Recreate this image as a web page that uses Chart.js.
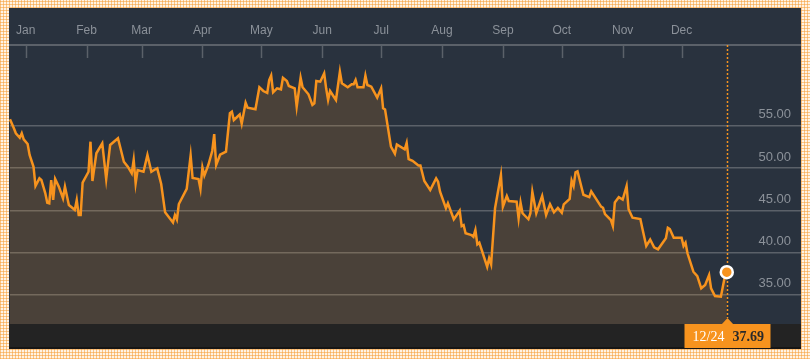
<!DOCTYPE html>
<html><head><meta charset="utf-8">
<script src="https://cdn.jsdelivr.net/npm/chart.js@4.4.0/dist/chart.umd.min.js"></script>
<style>
html,body{margin:0;padding:0;}
body{width:810px;height:359px;overflow:hidden;position:relative;background-color:#fff3e4;
background-image:repeating-linear-gradient(0deg,rgba(246,158,55,.55) 0 1px,transparent 1px 3px),repeating-linear-gradient(90deg,rgba(246,158,55,.55) 0 1px,transparent 1px 3px);}
#panel{position:absolute;left:9px;top:8px;width:792px;height:341px;background:linear-gradient(#29323e 0 316px,#232323 316px 339px,#161616 339px);}
canvas{display:block}
</style></head><body>
<div id="panel"><canvas id="c" width="792" height="341"></canvas></div>
<script>
// Month labels on the top axis and the day (since Jan 1) each month starts
const monthLabels = ['Jan','Feb','Mar','Apr','May','Jun','Jul','Aug','Sep','Oct','Nov','Dec'];
const monthStartDays = [0,31,59,90,120,151,181,212,243,273,304,334];
// Price axis ticks
const priceTicks = [35,40,45,50,55];
// Trading days (days since Jan 1; negative = previous December)
const tradeDays = [
 -8,-6,-5,-3,-2,-1,1,2,4,5,
 7,8,10,11,12,13,14,15,17,19,
 20,22,24,25,26,27,28,29,32,33,
 34,36,39,41,43,47,50,52,54,55,
 56,57,60,62,64,66,67,69,71,75,
 76,77,78,82,84,85,88,89,90,91,
 93,95,96,97,99,102,104,105,106,109,
 110,112,113,117,119,121,123,124,125,126,
 128,130,131,133,134,137,138,140,141,144,
 146,147,148,150,152,153,154,155,158,160,
 161,164,166,167,168,169,172,173,174,176,
 179,181,182,183,186,188,189,193,194,195,
 197,200,201,203,206,209,210,211,214,215,
 218,221,222,223,224,227,228,229,230,231,
 235,236,237,239,242,243,245,246,250,251,
 252,253,256,257,258,260,263,265,267,269,
 271,273,274,277,278,279,280,281,284,287,
 288,293,294,295,298,299,300,302,304,306,
 307,309,313,314,316,318,320,322,326,327,
 328,330,334,335,336,337,340,342,344,346,
 348,349,351,354,356,357
];
// Closing prices
const closePrices = [
 55.76,54.69,54.10,53.58,54.10,53.39,52.84,51.54,50.15,47.87,
 48.78,48.58,47.01,45.90,45.83,48.58,46.22,48.70,47.72,46.42,
 47.79,45.63,45.24,45.04,46.22,44.44,44.44,48.26,49.56,53.11,
 48.46,51.74,52.92,48.70,52.72,53.51,50.74,50.15,49.37,50.95,
 48.19,49.76,49.56,51.54,49.56,49.85,49.96,48.11,44.76,43.56,
 44.44,43.91,45.74,47.54,51.48,48.82,48.70,47.52,50.08,49.11,
 50.35,52.01,54.00,50.35,51.57,51.93,56.47,56.65,55.67,56.32,
 55.24,57.72,57.13,56.95,59.55,59.10,58.87,60.40,60.93,58.95,
 59.42,59.30,60.67,60.28,59.69,59.42,57.25,60.67,59.54,58.71,
 57.45,57.65,60.28,60.20,61.19,59.42,58.04,59.10,58.04,61.38,
 60.01,59.54,59.89,59.89,60.40,59.54,59.54,60.91,59.81,59.61,
 58.31,59.42,57.06,56.91,52.52,51.69,52.78,52.21,52.98,51.06,
 50.86,50.30,50.30,48.46,47.40,48.78,48.38,47.20,45.24,45.83,
 43.94,44.95,43.14,43.26,42.28,42.08,41.88,42.67,40.98,41.17,
 38.33,39.33,38.62,45.24,49.17,45.43,46.69,46.10,46.02,44.05,
 45.90,44.65,43.94,44.65,47.20,44.65,46.69,44.44,45.71,44.76,
 45.27,44.72,45.71,46.34,48.52,47.87,49.50,49.62,46.84,46.55,
 47.25,45.43,45.30,44.56,43.85,43.14,45.92,46.54,46.26,47.87,
 45.12,44.13,43.97,42.87,40.78,41.55,40.63,40.39,41.69,42.94,
 42.79,41.76,41.76,40.78,41.17,39.92,37.74,37.23,35.78,36.17,
 37.35,35.78,34.87,34.79,37.15,37.69
];
const lastDateLabel = '12/24';

const ORANGE = '#f7931e';
const AXIS_GRAY = '#5b6169';
const LABEL_GRAY = '#8b9199';
const lastIdx = closePrices.length - 1;

const decor = {
  id: 'decor',
  beforeDatasetsDraw(chart) {
    const {ctx, chartArea, scales: {x}} = chart;
    ctx.save();
    ctx.strokeStyle = AXIS_GRAY;
    ctx.lineWidth = 1.5;
    monthStartDays.forEach(d => {
      const px = Math.round(x.getPixelForValue(d)) + 0.5;
      ctx.beginPath();
      ctx.moveTo(px, chartArea.top);
      ctx.lineTo(px, chartArea.top + 13);
      ctx.stroke();
    });
    const lx = Math.round(x.getPixelForValue(tradeDays[lastIdx])) + 0.5;
    ctx.strokeStyle = ORANGE;
    ctx.lineWidth = 1.5;
    ctx.setLineDash([2, 2]);
    ctx.beginPath();
    ctx.moveTo(lx, chartArea.top);
    ctx.lineTo(lx, chartArea.bottom - 6);
    ctx.stroke();
    ctx.restore();
  },
  afterDraw(chart) {
    const {ctx, chartArea, scales: {x}} = chart;
    const lx = Math.round(x.getPixelForValue(tradeDays[lastIdx])) + 0.5;
    const b = chartArea.bottom;
    ctx.save();
    ctx.fillStyle = ORANGE;
    ctx.fillRect(lx - 43, b, 86, 24);
    ctx.beginPath();
    ctx.moveTo(lx - 6, b + 0.5);
    ctx.lineTo(lx, b - 6);
    ctx.lineTo(lx + 6, b + 0.5);
    ctx.closePath();
    ctx.fill();
    ctx.textBaseline = 'middle';
    ctx.textAlign = 'left';
    ctx.fillStyle = '#ffffff';
    ctx.font = '14px "Liberation Serif", serif';
    ctx.fillText(lastDateLabel, lx - 35, b + 13);
    ctx.fillStyle = '#2a2a2a';
    ctx.font = 'bold 14px "Liberation Serif", serif';
    ctx.fillText(closePrices[lastIdx].toFixed(2), lx + 5, b + 13);
    ctx.restore();
  }
};

new Chart(document.getElementById('c'), {
  type: 'line',
  data: {
    datasets: [{
      data: tradeDays.map((d, i) => ({x: d, y: closePrices[i]})),
      borderColor: ORANGE,
      borderWidth: 2.5,
      backgroundColor: 'rgba(247,147,30,0.16)',
      fill: 'start',
      tension: 0,
      clip: false,
      pointRadius: ctx => ctx.dataIndex === lastIdx ? 6 : 0,
      pointHoverRadius: 0,
      pointBackgroundColor: ORANGE,
      pointBorderColor: '#ffffff',
      pointBorderWidth: 2.5
    }]
  },
  options: {
    responsive: false,
    animation: false,
    events: [],
    layout: {autoPadding: false, padding: {top: 0, left: 0, right: 0, bottom: 25}},
    plugins: {legend: {display: false}, tooltip: {enabled: false}},
    scales: {
      x: {
        type: 'linear', position: 'top', min: -8, max: 394.8,
        afterBuildTicks: s => { s.ticks = monthStartDays.map(v => ({value: v})); },
        afterFit: s => { s.height = 37; },
        ticks: {
          autoSkip: false, maxRotation: 0, padding: 7, color: LABEL_GRAY,
          font: {family: '"Liberation Sans", Arial, sans-serif', size: 12},
          callback: v => monthLabels[monthStartDays.indexOf(v)]
        },
        grid: {drawOnChartArea: false, drawTicks: false},
        border: {display: true, color: AXIS_GRAY, width: 2}
      },
      y: {
        type: 'linear', position: 'right', min: 31.56, max: 64.54,
        afterBuildTicks: s => { s.ticks = priceTicks.map(v => ({value: v})); },
        afterFit: s => { s.width = 0; },
        ticks: {
          mirror: true, padding: -10, labelOffset: -11, color: LABEL_GRAY,
          font: {family: '"Liberation Sans", Arial, sans-serif', size: 13},
          callback: v => v.toFixed(2)
        },
        grid: {color: AXIS_GRAY, lineWidth: 1.5, drawTicks: false},
        border: {display: false}
      }
    }
  },
  plugins: [decor]
});
</script>
</body></html>
